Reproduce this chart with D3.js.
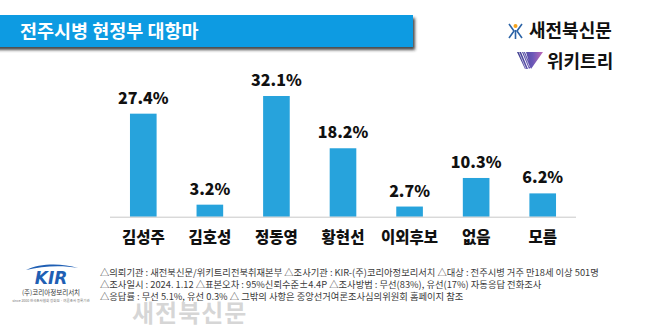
<!DOCTYPE html>
<html>
<head>
<meta charset="utf-8">
<script src="https://cdn.jsdelivr.net/npm/d3@7/dist/d3.min.js"></script>
<style>
  html, body { margin: 0; padding: 0; background: #fff; }
  svg { display: block; }
  text { font-family: "Noto Sans CJK KR", "Noto Sans", sans-serif; }
</style>
</head>
<body>
<script>
// Poll results: candidates and support share (%)
const categories = ["김성주", "김호성", "정동영", "황현선", "이외후보", "없음", "모름"];
const values = [27.4, 3.2, 32.1, 18.2, 2.7, 10.3, 6.2];
const title = "전주시병 현정부 대항마";
const footnotes = [
  "△의뢰기관 : 새전북신문/위키트리전북취재본부 △조사기관 : KIR-(주)코리아정보리서치 △대상 : 전주시병 거주 만18세 이상 501명",
  "△조사일시 : 2024. 1.12 △표본오차 : 95%신뢰수준±4.4P △조사방법 : 무선(83%), 유선(17%) 자동응답 전화조사",
  "△응답률 : 무선 5.1%, 유선 0.3% △ 그밖의 사항은 중앙선거여론조사심의위원회 홈페이지 참조"
];

const W = 650, H = 336;
const svg = d3.select("body").append("svg").attr("width", W).attr("height", H);
const defs = svg.append("defs");

// Title banner with drop shadow
const f = defs.append("filter").attr("id", "shadow").attr("x", "-5%").attr("y", "-20%").attr("width", "115%").attr("height", "160%");
f.append("feDropShadow").attr("dx", 2).attr("dy", 3).attr("stdDeviation", 1.5).attr("flood-color", "#2a2a2a").attr("flood-opacity", 0.85);
svg.append("rect").attr("x", -5).attr("y", 15).attr("width", 418).attr("height", 32)
  .attr("fill", "#0b9be2").attr("filter", "url(#shadow)");
svg.append("text").attr("x", 20).attr("y", 37.5).attr("fill", "#fff")
  .attr("font-size", 18.5).attr("font-weight", 700).text(title);

// Publisher marks (top right)
const logo = svg.append("g");
const sj = logo.append("g").attr("transform", "translate(508,22)");
sj.append("path").attr("d", "M1,2 L6,9 L1,16").attr("fill", "none").attr("stroke", "#2b63a6").attr("stroke-width", 1.6);
sj.append("path").attr("d", "M14,2 L9,9 L14,16").attr("fill", "none").attr("stroke", "#2b63a6").attr("stroke-width", 1.6);
sj.append("path").attr("d", "M7.5,8 L7.5,17").attr("stroke", "#2b63a6").attr("stroke-width", 1.6);
sj.append("circle").attr("cx", 7.5).attr("cy", 4).attr("r", 2).attr("fill", "#f3a21b");
logo.append("text").attr("x", 529).attr("y", 37).attr("font-size", 18).attr("font-weight", 700)
  .attr("fill", "#111").text("새전북신문");
const grad = defs.append("linearGradient").attr("id", "wg").attr("x1", "0").attr("x2", "1");
grad.append("stop").attr("offset", "0%").attr("stop-color", "#3a3a8c");
grad.append("stop").attr("offset", "60%").attr("stop-color", "#6a58b8");
grad.append("stop").attr("offset", "100%").attr("stop-color", "#c06ab8");
const wl = logo.append("g").attr("transform", "translate(517,52)");
wl.append("path").attr("d", "M0,0 L4,0 L11,17 L8,17 Z M5,0 L8,0 L14,15 L12,17 Z M9,0 L26,0 L14,17 Z").attr("fill", "url(#wg)");
wl.append("path").attr("d", "M2,0 L9,17 M6.5,0 L12.5,15").attr("stroke", "#fff").attr("stroke-width", 0.6);
logo.append("text").attr("x", 547).attr("y", 68).attr("font-size", 18).attr("font-weight", 700)
  .attr("fill", "#111").text("위키트리");

// Chart area
const baseline = 216.7;
const x = d3.scaleBand().domain(categories).range([110, 576]).paddingInner(0.6).paddingOuter(0.3);
const y = d3.scaleLinear().domain([0, 32.1]).range([baseline, 96]);

svg.append("g").selectAll("rect").data(values).join("rect")
  .attr("x", (d, i) => x(categories[i]))
  .attr("width", x.bandwidth())
  .attr("y", d => y(d))
  .attr("height", d => baseline - y(d))
  .attr("fill", "#27a3dc");

svg.append("line").attr("x1", 110).attr("x2", 576).attr("y1", baseline + 0.5).attr("y2", baseline + 0.5)
  .attr("stroke", "#c8c8c8").attr("stroke-width", 1);

svg.append("g").selectAll("text").data(values).join("text")
  .attr("x", (d, i) => x(categories[i]) + x.bandwidth() / 2)
  .attr("y", d => y(d) - 10)
  .attr("text-anchor", "middle").attr("font-size", 16).attr("font-weight", 900).attr("fill", "#111")
  .text(d => d.toFixed(1) + "%");

const xAxis = d3.axisBottom(x).tickSize(0).tickPadding(0);
const ax = svg.append("g").attr("transform", `translate(0,${baseline})`).call(xAxis);
ax.select(".domain").remove();
ax.selectAll("text").attr("dy", null).attr("y", 26).attr("font-size", 15.5).attr("font-weight", 900)
  .attr("fill", "#111").style("font-family", '"Noto Sans CJK KR", sans-serif');

// Research firm mark (bottom left)
const kir = svg.append("g");
kir.append("path").attr("d", "M26,270 C40,263 62,263 78,268 C62,265 42,266 26,270 Z").attr("fill", "#1f5fb4");
kir.append("text").attr("x", 51).attr("y", 284).attr("text-anchor", "middle")
  .attr("font-size", 17).attr("font-weight", 900).attr("font-style", "italic")
  .attr("fill", "#1f5fb4").style("font-family", '"DejaVu Sans", sans-serif').text("KIR");
kir.append("text").attr("x", 51).attr("y", 295).attr("text-anchor", "middle")
  .attr("font-size", 6.5).attr("fill", "#333").text("(주)코리아정보리서치");
kir.append("text").attr("x", 51).attr("y", 302).attr("text-anchor", "middle")
  .attr("font-size", 3.5).attr("fill", "#777").text("since 2000 한국조사협회 정회원 · 여론조사 등록기관");

// Survey notes
svg.append("g").selectAll("text").data(footnotes).join("text")
  .attr("x", 100).attr("y", (d, i) => 276 + i * 12)
  .attr("font-size", 9.3).attr("fill", "#3a3a3a").text(d => d);

// Watermark
svg.append("text").attr("x", 132).attr("y", 322).attr("font-size", 24).attr("font-weight", 700)
  .attr("fill", "#cfcfcf").attr("fill-opacity", 0.85).attr("letter-spacing", 1).text("새전북신문");
</script>
</body>
</html>
